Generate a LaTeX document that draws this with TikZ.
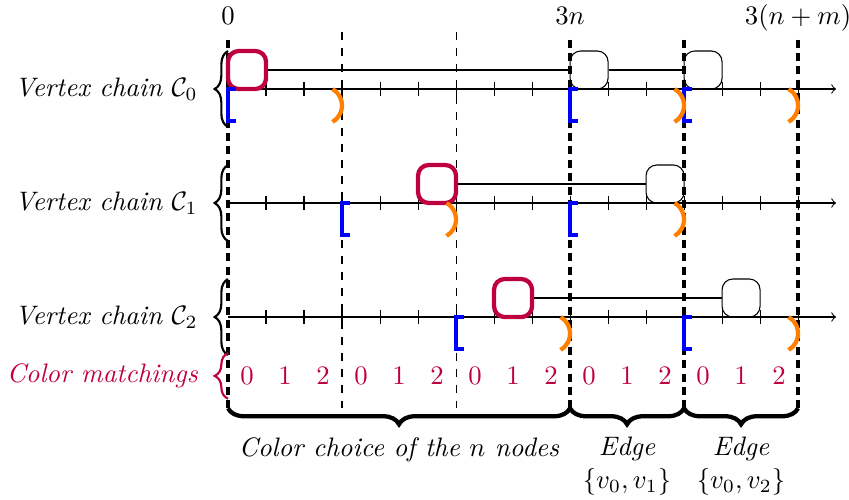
\documentclass[tikz,border=0pt]{standalone}
\usetikzlibrary{decorations.pathreplacing}
\begin{document}
\begin{tikzpicture}[x=0.5cm,y=0.5cm,
  thickdot/.style={line width=1.7pt, dash pattern=on 3pt off 2pt},
  thindash/.style={dashed},
  vbox/.style={draw, rounded corners=4pt, minimum width=0.5cm, minimum height=0.5cm, inner sep=0pt},
  cbox/.style={vbox, draw=purple, ultra thick},
  lbr/.style={blue, ultra thick},
  rbr/.style={orange, ultra thick},
  lbrace/.style={decorate, decoration={brace, amplitude=5pt}, thick},
  bbrace/.style={decorate, decoration={brace, amplitude=6pt}, ultra thick},
  lab/.style={font=\itshape},
]
\useasboundingbox (-6,-10.79) rectangle (16.34,2.342);

% vertical separators
\foreach \x in {0,9,12,15} \draw[thickdot] (\x,1.3) -- (\x,-8.4);
\foreach \x in {3,6} \draw[thindash] (\x,1.5) -- (\x,-8.4);

% top labels
\node[anchor=base] (t0) at (0,1.71) {$0$};
\node[anchor=base] (t1) at (9,1.71) {$3n$};
\node[anchor=base] (t2) at (15,1.71) {$3(n+m)$};

% axes with ticks
\foreach \y in {0,-3,-6} {
  \draw[->] (0,\y) -- (16,\y);
  \foreach \i in {1,...,15} \draw (\i,\y+0.18) -- (\i,\y-0.18);
}

% boxes and links
\node[cbox] (c0) at (0.5,0.5) {};
\node[vbox] (b01) at (9.5,0.5) {};
\node[vbox] (b02) at (12.5,0.5) {};
\draw (c0) -- (b01);
\draw (b01) -- (b02);

\node[cbox] (c1) at (5.5,-2.5) {};
\node[vbox] (b11) at (11.5,-2.5) {};
\draw (c1) -- (b11);

\node[cbox] (c2) at (7.5,-5.5) {};
\node[vbox] (b21) at (13.5,-5.5) {};
\draw (c2) -- (b21);

% interval brackets
\foreach \x/\y in {0/0,9/0,12/0,3/-3,9/-3,6/-6,12/-6}
  \draw[lbr] (\x+0.2,\y) -- (\x,\y) -- (\x,\y-0.85) -- (\x+0.2,\y-0.85);
\foreach \x/\y in {3/0,12/0,15/0,6/-3,12/-3,9/-6,15/-6}
  \draw[rbr] (\x-0.25,\y) arc[start angle=60,end angle=-60,radius=0.25cm];

% left braces and labels
\draw[lbrace] (0,-1) -- (0,1);
\draw[lbrace] (0,-4) -- (0,-2);
\draw[lbrace] (0,-7) -- (0,-5);
\draw[lbrace, purple] (0,-8.15) -- (0,-6.95);
\node[lab, anchor=east] (l0) at (-0.55,0) {Vertex chain $\mathcal{C}_0$};
\node[lab, anchor=east] (l1) at (-0.55,-3) {Vertex chain $\mathcal{C}_1$};
\node[lab, anchor=east] (l2) at (-0.55,-6) {Vertex chain $\mathcal{C}_2$};
\node[lab, anchor=east, text=purple] (lm) at (-0.55,-7.55) {Color matchings};

% colour digits
\foreach \k in {0,...,4} {
  \node[text=purple] (d\k a) at (3*\k+0.5,-7.55) {$0$};
  \node[text=purple] (d\k b) at (3*\k+1.5,-7.55) {$1$};
  \node[text=purple] (d\k c) at (3*\k+2.5,-7.55) {$2$};
}

% bottom braces and labels
\draw[bbrace] (9,-8.4) -- (0,-8.4);
\draw[bbrace] (12,-8.4) -- (9,-8.4);
\draw[bbrace] (15,-8.4) -- (12,-8.4);
\node[lab, anchor=north] (g0) at (4.5,-8.92) {Color choice of the $n$ nodes};
\node[lab, anchor=north, align=center] (g1) at (10.5,-8.92) {Edge\\$\{v_0,v_1\}$};
\node[lab, anchor=north, align=center] (g2) at (13.5,-8.92) {Edge\\$\{v_0,v_2\}$};
\end{tikzpicture}
\end{document}
